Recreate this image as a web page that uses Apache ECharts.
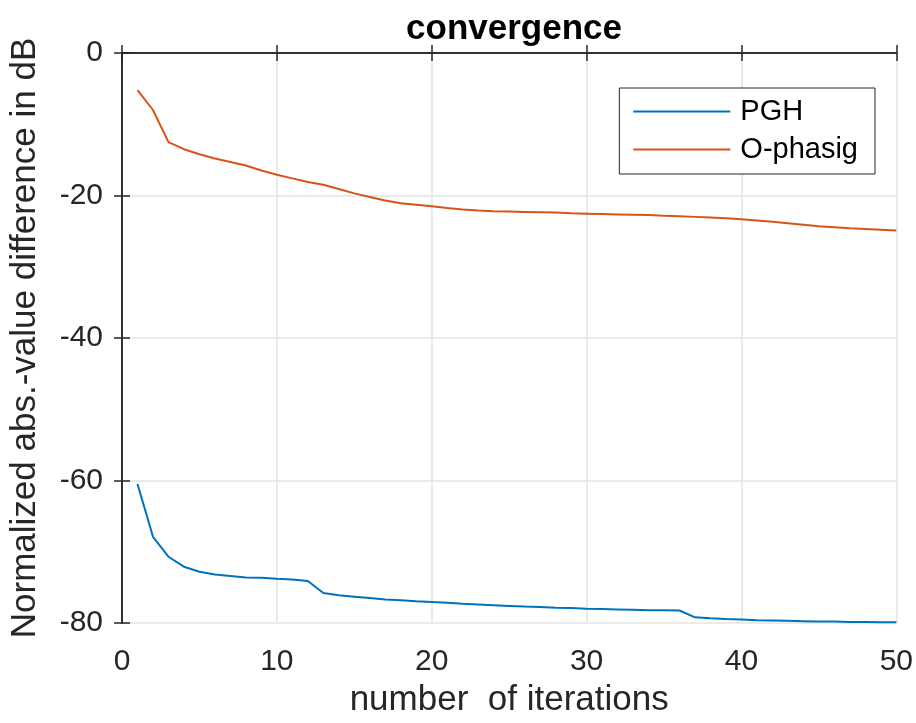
<!DOCTYPE html>
<html>
<head>
<meta charset="utf-8">
<script src="https://cdn.jsdelivr.net/npm/echarts@6/dist/echarts.min.js"></script>
<style>
  html, body { margin: 0; padding: 0; background: #fff; }
  #main { width: 916px; height: 723px; }
</style>
</head>
<body>
<div id="main"></div>
<script>
// iterations 1..50
const iterations = [];
for (let i = 1; i <= 50; i++) iterations.push(i);

const pgh = [
  -60.5, -67.9, -70.7, -72.1, -72.8, -73.2, -73.4, -73.6, -73.65, -73.8,
  -73.9, -74.1, -75.8, -76.1, -76.3, -76.5, -76.7, -76.8, -76.95, -77.05,
  -77.15, -77.3, -77.4, -77.5, -77.6, -77.7, -77.75, -77.85, -77.9, -78.0,
  -78.05, -78.1, -78.15, -78.2, -78.2, -78.25, -79.2, -79.35, -79.45, -79.5,
  -79.6, -79.65, -79.7, -79.75, -79.8, -79.8, -79.85, -79.85, -79.9, -79.9
];

const ophasig = [
  -5.2, -8.0, -12.5, -13.5, -14.2, -14.8, -15.3, -15.8, -16.5, -17.1,
  -17.6, -18.1, -18.5, -19.1, -19.7, -20.2, -20.7, -21.1, -21.3, -21.5,
  -21.75, -21.95, -22.1, -22.2, -22.25, -22.3, -22.35, -22.4, -22.5, -22.55,
  -22.6, -22.65, -22.7, -22.75, -22.85, -22.9, -23.0, -23.1, -23.2, -23.35,
  -23.5, -23.7, -23.9, -24.1, -24.3, -24.45, -24.6, -24.7, -24.8, -24.9
];

const xTicks = [0, 10, 20, 30, 40, 50];
const yTicks = [-80, -60, -40, -20, 0];

const textColor = '#262626';
const font = 'Liberation Sans, Arial, sans-serif';

const chart = echarts.init(document.getElementById('main'), null, { renderer: 'canvas' });

const axisLine = { show: true, lineStyle: { color: '#262626', width: 1.5 } };
const tickIn = { show: true, inside: true, length: 8, lineStyle: { color: '#262626', width: 1.5 } };

const option = {
  backgroundColor: '#fff',
  animation: false,
  title: {
    text: 'convergence',
    left: 509,
    top: 7,
    textAlign: 'center',
    textStyle: { fontFamily: font, fontWeight: 'bold', fontSize: 35, color: '#000' }
  },
  legend: {
    right: 41,
    top: 88,
    orient: 'vertical',
    itemWidth: 97,
    itemHeight: 2,
    itemGap: 9,
    padding: [9, 17, 10, 14],
    borderColor: '#262626',
    borderWidth: 1,
    backgroundColor: '#fff',
    textStyle: { fontFamily: font, fontSize: 29, color: '#000', padding: [0, 0, 0, 5] },
    data: [
      { name: 'PGH', icon: 'rect' },
      { name: 'O-phasig', icon: 'rect' }
    ]
  },
  grid: { left: 122, right: 19, top: 53, bottom: 98 },
  xAxis: [
    {
      type: 'value',
      min: 0, max: 50, interval: 10,
      name: 'number  of iterations',
      nameLocation: 'middle',
      nameGap: 60,
      nameTextStyle: { fontFamily: font, fontSize: 35, color: textColor },
      axisLine: axisLine,
      axisTick: tickIn,
      axisLabel: {
        fontFamily: font, fontSize: 30, color: textColor, margin: 24,
        formatter: v => (xTicks.includes(v) ? String(v) : '')
      },
      splitLine: { show: true, lineStyle: { color: '#e3e3e3', width: 1.5 } }
    },
    {
      type: 'value', position: 'top',
      min: 0, max: 50, interval: 10,
      axisLine: axisLine, axisTick: tickIn,
      axisLabel: { show: false }, splitLine: { show: false }
    }
  ],
  yAxis: [
    {
      type: 'value',
      min: -80, max: 0, interval: 20,
      name: 'Normalized abs.-value difference in dB',
      nameLocation: 'middle',
      nameGap: 79,
      nameTextStyle: { fontFamily: font, fontSize: 35, color: textColor },
      axisLine: axisLine,
      axisTick: tickIn,
      axisLabel: {
        fontFamily: font, fontSize: 30, color: textColor, margin: 19,
        formatter: v => (yTicks.includes(v) ? String(v) : '')
      },
      splitLine: { show: true, lineStyle: { color: '#e3e3e3', width: 1.5 } }
    },
    {
      type: 'value', position: 'right',
      min: -80, max: 0, interval: 20,
      axisLine: axisLine, axisTick: tickIn,
      axisLabel: { show: false }, splitLine: { show: false }
    }
  ],
  series: [
    {
      name: 'PGH',
      type: 'line',
      data: iterations.map((x, i) => [x, pgh[i]]),
      showSymbol: false,
      symbol: 'none',
      itemStyle: { color: '#0072BD' },
      lineStyle: { color: '#0072BD', width: 2 }
    },
    {
      name: 'O-phasig',
      type: 'line',
      data: iterations.map((x, i) => [x, ophasig[i]]),
      showSymbol: false,
      symbol: 'none',
      itemStyle: { color: '#D95319' },
      lineStyle: { color: '#D95319', width: 2 }
    }
  ]
};

chart.setOption(option);
</script>
</body>
</html>
